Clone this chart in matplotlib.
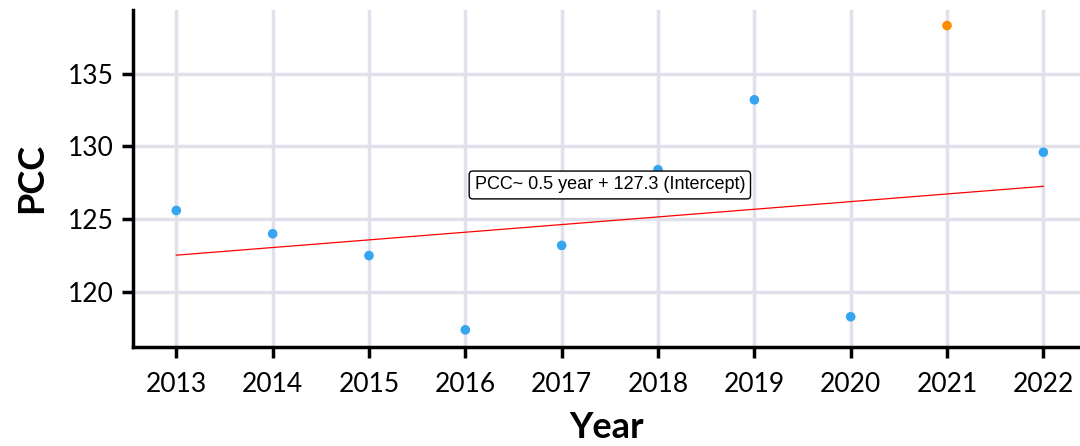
import matplotlib
matplotlib.use('Agg')
import matplotlib.pyplot as plt
import numpy as np

## data
years = [2013, 2014, 2015, 2016, 2017, 2018, 2019, 2020, 2021, 2022]
pcc = [125.6, 124.0, 122.5, 117.4, 123.2, 128.4, 133.2, 118.3, 138.3, 129.6]
outlier = [False, False, False, False, False, False, False, False, True, False]
eq_label = 'PCC~ 0.5 year + 127.3 (Intercept)'

## fit without the outlier
x = np.array(years)
y = np.array(pcc)
keep = ~np.array(outlier)
slope, icpt = np.polyfit(x[keep], y[keep], 1)
fit_x = np.array([x.min(), x.max()])
fit_y = slope * fit_x + icpt

plt.rcParams['font.family'] = ['Lato', 'DejaVu Sans']

fig = plt.figure(figsize=(10.8, 4.46), dpi=100)
ax = fig.add_axes([0.1231, 0.2226, 0.8769, 0.755])

grid_col = '#e1e1ec'
ax.set_axisbelow(True)
ax.grid(True, color=grid_col, linewidth=2.5)

ax.plot(fit_x, fit_y, color='red', linewidth=0.9, zorder=2)
cols = np.where(np.array(outlier), '#ff8c00', '#35a5f0')
ax.scatter(x, y, s=48, c=cols, zorder=3, linewidths=0)

ax.text(2017.5, 127.35, eq_label, fontsize=13, family=['Liberation Sans', 'DejaVu Sans'],
        ha='center', va='center', zorder=4,
        bbox=dict(boxstyle='round,pad=0.3,rounding_size=0.2', fc='white', ec='black', lw=1))

ax.set_xlim(2012.55, 2022.38)
ax.set_ylim(116.24, 139.37)
ax.set_xticks(years)
ax.set_yticks([120, 125, 130, 135])

for s in ['top', 'right']:
    ax.spines[s].set_visible(False)
for s in ['left', 'bottom']:
    ax.spines[s].set_linewidth(2.5)
    ax.spines[s].set_color('black')

ax.tick_params(axis='both', length=8, width=2.5, labelsize=19, colors='black', pad=10)
ax.tick_params(axis='y', pad=6)

ax.set_xlabel('Year', fontsize=26, fontweight='bold', labelpad=10)
ax.set_ylabel('PCC', fontsize=26, fontweight='bold', labelpad=14)

fig.savefig('out.png', dpi=100)
